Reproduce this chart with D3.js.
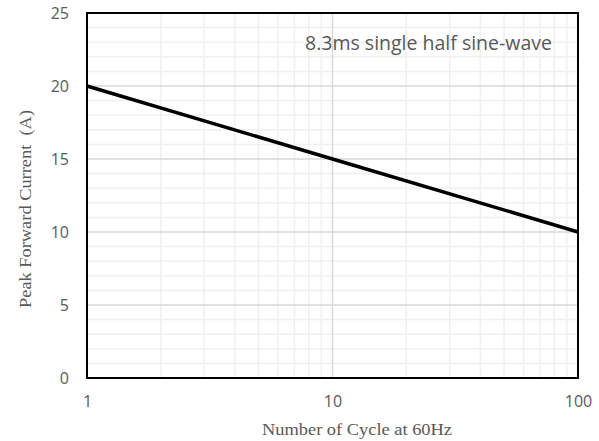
<!DOCTYPE html>
<html lang="en">
<head>
    <meta charset="UTF-8">
    <title>Peak Forward Surge Current</title>
    <script src="https://cdn.jsdelivr.net/npm/d3@7"></script>
    <style>
        body { margin: 0; background: #fff; }
    </style>
</head>
<body>
    <script>
        // data
        let cycles = [1, 10, 100];
        let current = [20, 15, 10];
        let xTicks = [1, 10, 100];
        let yTicks = [0, 5, 10, 15, 20, 25];

        let width = 599,
            height = 441,
            padding = { top: 13, left: 87, bottom: 63, right: 21 };

        let svg = d3.select('body').append('svg').attr('width', width).attr('height', height);

        let x = d3.scaleLog().domain([1, 100]).range([padding.left, width - padding.right]);
        let y = d3.scaleLinear().domain([0, 25]).range([height - padding.bottom, padding.top]);

        let grid = svg.append('g');
        // minor grid
        let xMinor = [];
        [1, 10].forEach(d => { for (let k = 2; k <= 9; k++) xMinor.push(d * k); });
        grid.selectAll('.xm').data(xMinor).enter().append('line')
            .attr('x1', d => x(d)).attr('x2', d => x(d))
            .attr('y1', y(0)).attr('y2', y(25))
            .attr('stroke', '#f0f0f0').attr('stroke-width', 1.5);
        let yMinor = d3.range(0, 26).filter(d => d % 5 !== 0);
        grid.selectAll('.ym').data(yMinor).enter().append('line')
            .attr('x1', x(1)).attr('x2', x(100))
            .attr('y1', d => y(d)).attr('y2', d => y(d))
            .attr('stroke', '#f0f0f0').attr('stroke-width', 1.5);
        // major grid
        grid.selectAll('.xM').data([10]).enter().append('line')
            .attr('x1', d => x(d)).attr('x2', d => x(d))
            .attr('y1', y(0)).attr('y2', y(25))
            .attr('stroke', '#d9d9d9').attr('stroke-width', 1.5);
        grid.selectAll('.yM').data([5, 10, 15, 20]).enter().append('line')
            .attr('x1', x(1)).attr('x2', x(100))
            .attr('y1', d => y(d)).attr('y2', d => y(d))
            .attr('stroke', '#d9d9d9').attr('stroke-width', 1.5);

        // plot frame
        svg.append('rect')
            .attr('x', x(1)).attr('y', y(25))
            .attr('width', x(100) - x(1)).attr('height', y(0) - y(25))
            .attr('fill', 'none').attr('stroke', '#000').attr('stroke-width', 2);

        // axes
        let xAxis = svg.append('g')
            .attr('transform', `translate(0,${y(0)})`)
            .call(d3.axisBottom(x).tickValues(xTicks).tickFormat(d3.format('d')).tickSize(0).tickPadding(18));
        let yAxis = svg.append('g')
            .attr('transform', `translate(${x(1)},0)`)
            .call(d3.axisLeft(y).tickValues(yTicks).tickSize(0).tickPadding(18));
        [xAxis, yAxis].forEach(a => {
            a.select('.domain').remove();
            a.selectAll('text').attr('fill', '#595959')
                .style('font-family', '"Open Sans", Calibri, sans-serif').style('font-size', '16px');
        });

        // line
        let line = d3.line().x((d, i) => x(cycles[i])).y(d => y(d));
        svg.append('path').datum(current)
            .attr('d', line)
            .attr('fill', 'none').attr('stroke', '#000').attr('stroke-width', 3.5);

        // labels
        svg.append('text')
            .attr('x', 305).attr('y', 50)
            .attr('fill', '#595959')
            .style('font-family', '"Open Sans", sans-serif').style('font-size', '19.5px')
            .text('8.3ms single half sine-wave');

        svg.append('text')
            .attr('x', 262).attr('y', 435)
            .attr('textLength', 190).attr('lengthAdjust', 'spacingAndGlyphs')
            .attr('fill', '#595959')
            .style('font-family', '"Liberation Serif", "Times New Roman", serif').style('font-size', '17.5px')
            .text('Number of Cycle at 60Hz');

        svg.append('text')
            .attr('transform', 'translate(31,308) rotate(-90)')
            .attr('textLength', 198).attr('lengthAdjust', 'spacingAndGlyphs')
            .attr('fill', '#595959')
            .style('font-family', '"Liberation Serif", "Times New Roman", serif').style('font-size', '17.5px')
            .style('white-space', 'pre')
            .text('Peak Forward Current  (A)');
    </script>
</body>
</html>
